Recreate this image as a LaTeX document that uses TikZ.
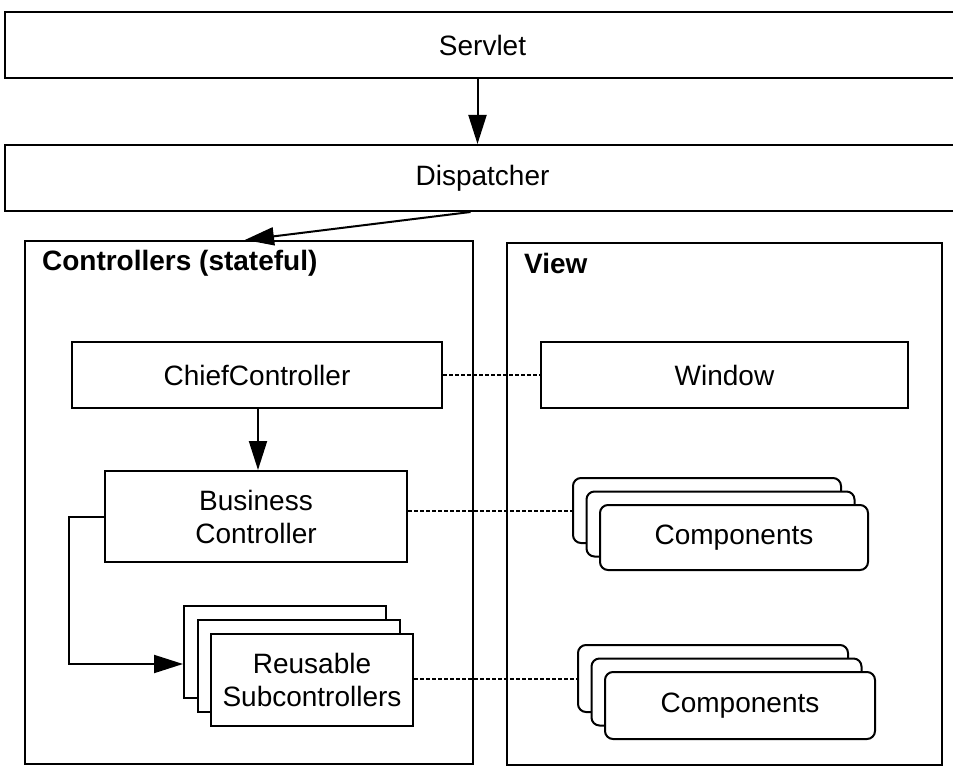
\documentclass[tikz,border=0pt]{standalone}
\usepackage{fontspec}
\setmainfont{Liberation Sans}
\usetikzlibrary{arrows.meta}

\begin{document}
\begin{tikzpicture}[x=1pt,y=-1pt]
\tikzset{boite/.style={draw, line width=2pt, fill=white, inner sep=0pt, align=center, font=\fontsize{28}{33}\selectfont},
  pile/.style={boite, rounded corners=8pt},
  cadre/.style={draw, line width=2.2pt, inner sep=0pt},
  titre/.style={anchor=west, inner sep=0pt, font=\fontsize{28}{33}\selectfont\bfseries},
  fleche/.style={line width=2pt, -{Triangle[length=29pt,width=18pt]}},
  lien/.style={line width=2pt, dash pattern=on 3.5pt off 2.5pt}}
\clip (0,0) rectangle (953,767);
% top bands
\node[boite, minimum width=955pt, minimum height=66pt] (servlet) at (482.5,45) {Servlet};
\node[boite, minimum width=955pt, minimum height=66pt] (dispatcher) at (482.5,178) {Dispatcher};
% the two frames
\node[cadre, minimum width=448pt, minimum height=523pt] (ctrl) at (249,502.5) {};
\node[titre] (ctrltitre) at ([xshift=18pt,yshift=-23pt]ctrl.north west) {Controllers (stateful)};
\node[cadre, minimum width=435pt, minimum height=522pt] (view) at (724.5,504) {};
\node[titre] (viewtitre) at ([xshift=18pt,yshift=-22pt]view.north west) {View};
% controllers
\node[boite, minimum width=370pt, minimum height=66pt] (chief) at (257,375) {ChiefController};
\node[boite, minimum width=302pt, minimum height=91pt] (business) at (256,516.5) {Business\\Controller};
\node[boite, minimum width=202pt, minimum height=92pt] (reuse3) at (285,652) {};
\node[boite, minimum width=202pt, minimum height=92pt] (reuse2) at (298.5,666) {};
\node[boite, minimum width=202pt, minimum height=92pt] (reuse1) at (312,680) {Reusable\\Subcontrollers};
% view
\node[boite, minimum width=367pt, minimum height=66pt] (window) at (724.5,375) {Window};
\node[pile, minimum width=268pt, minimum height=65pt] (compa3) at (707,510.5) {};
\node[pile, minimum width=268pt, minimum height=65pt] (compa2) at (720.5,524) {};
\node[pile, minimum width=268pt, minimum height=65pt] (compa1) at (734,537.5) {Components};
\node[pile, minimum width=270pt, minimum height=67pt] (compb3) at (713,678.5) {};
\node[pile, minimum width=270pt, minimum height=67pt] (compb2) at (726.5,692) {};
\node[pile, minimum width=270pt, minimum height=67pt] (compb1) at (740,705.5) {Components};
% calls
\draw[fleche] ([xshift=-5pt]servlet.south) -- ([xshift=-5pt]dispatcher.north);
\draw[fleche] ([xshift=-12pt]dispatcher.south) -- ([xshift=-4pt]ctrl.north);
\draw[fleche] ([xshift=2pt]business.north |- chief.south) -- ([xshift=2pt]business.north);
\draw[fleche] (business.west) -- ++(-35,0) |- ([yshift=-12pt]reuse3.west);
% controller <-> view
\draw[lien] (chief.east) -- (window.west);
\draw[lien] (business.east |- compa3.west) -- (compa3.west);
\draw[lien] (reuse1.east |- compb3.west) -- (compb3.west);
\end{tikzpicture}
\end{document}
